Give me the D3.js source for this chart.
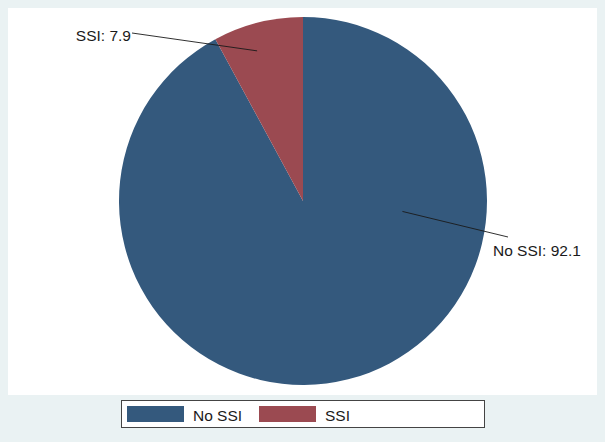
<!DOCTYPE html>
<html>
<head>
<meta charset="utf-8">
<script src="https://cdn.jsdelivr.net/npm/d3@7"></script>
<style>
  body { margin: 0; background: #eaf2f3; }
  text { font-family: "Liberation Sans", Arial, sans-serif; fill: #1a1a1a; }
</style>
</head>
<body>
<div id="canvas"></div>
<script>
// data
var categories = ['No SSI', 'SSI'];
var percents = [92.1, 7.9];
var colors = ['#34597d', '#9b4a51'];

var width = 605, height = 442;
var cx = 303, cy = 201, radius = 184;

// label leader lines, in polar terms around the pie centre (degrees clockwise from top)
var label_layout = [
  { inAngle: 96, inR: 100, outX: 508, outY: 237, tx: 493, ty: 256, anchor: 'start' },
  { inAngle: 343, inR: 157, outX: 132, outY: 33, tx: 131, ty: 41, anchor: 'end' }
];

var svg = d3.select('#canvas').append('svg')
  .attr('width', width)
  .attr('height', height)
  .style('display', 'block')
  .style('background-color', '#eaf2f3');

// plot region
svg.append('rect')
  .attr('x', 8).attr('y', 8)
  .attr('width', 589).attr('height', 387)
  .attr('fill', '#fff');

var pie = d3.pie().sort(null).value(function(d) { return d; });
var arc = d3.arc().innerRadius(0).outerRadius(radius);
var arcs = pie(percents);

var g = svg.append('g').attr('transform', 'translate(' + cx + ',' + cy + ')');

g.selectAll('path.slice')
  .data(arcs)
  .enter().append('path')
  .attr('class', 'slice')
  .attr('d', arc)
  .attr('fill', function(d, i) { return colors[i]; });

// labels
arcs.forEach(function(d, i) {
  var l = label_layout[i];
  var a = l.inAngle * Math.PI / 180;
  var x1 = cx + l.inR * Math.sin(a), y1 = cy - l.inR * Math.cos(a);
  svg.append('line')
    .attr('x1', x1).attr('y1', y1)
    .attr('x2', l.outX).attr('y2', l.outY)
    .attr('stroke', '#1a1a1a')
    .attr('stroke-width', 0.9);
  svg.append('text')
    .attr('x', l.tx).attr('y', l.ty)
    .attr('text-anchor', l.anchor)
    .style('font-size', '15.5px')
    .text(categories[i] + ': ' + d3.format('.1f')(percents[i]));
});

// legend
var legend = svg.append('g');
legend.append('rect')
  .attr('x', 121.5).attr('y', 400.5)
  .attr('width', 363).attr('height', 27)
  .attr('fill', '#fff')
  .attr('stroke', '#444')
  .attr('stroke-width', 1);

var items = legend.selectAll('g.item')
  .data(categories)
  .enter().append('g')
  .attr('class', 'item')
  .attr('transform', function(d, i) { return 'translate(' + (127 + i * 132) + ',0)'; });

items.append('rect')
  .attr('x', 0).attr('y', 406)
  .attr('width', 57).attr('height', 16)
  .attr('fill', function(d, i) { return colors[i]; });

items.append('text')
  .attr('x', 66).attr('y', 421)
  .style('font-size', '15.5px')
  .text(function(d) { return d; });
</script>
</body>
</html>
